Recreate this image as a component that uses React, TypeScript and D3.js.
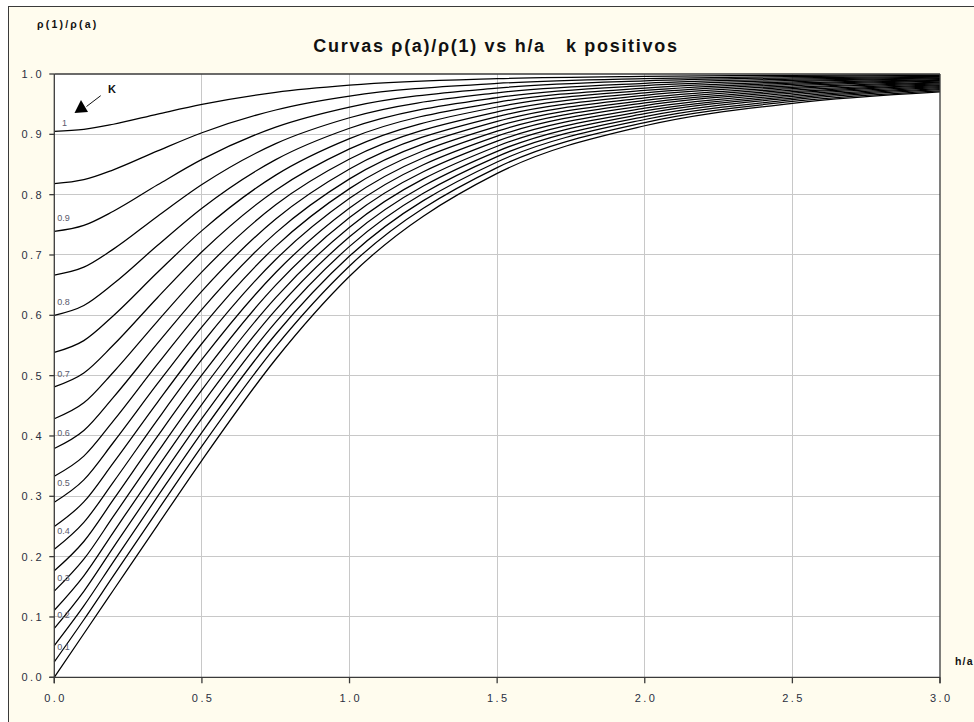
import React from 'react';
import * as d3 from 'd3';

// h/a sample positions read along the horizontal axis
const hOverA = [0, 0.1, 0.2, 0.35, 0.5, 0.75, 1.0, 1.5, 2.0, 2.5, 3.0];

// rho(1)/rho(a) for each curve (k = 0.05 ... 1.00), read at the h/a positions above
const k005 = [0.9048, 0.9081, 0.9167, 0.9335, 0.9497, 0.9696, 0.9814, 0.9922, 0.9962, 0.9979, 0.9987];
const k010 = [0.8182, 0.8248, 0.8412, 0.8725, 0.9026, 0.9403, 0.9632, 0.9844, 0.9924, 0.9958, 0.9975];
const k015 = [0.7391, 0.7490, 0.7725, 0.8163, 0.8584, 0.9120, 0.9452, 0.9766, 0.9885, 0.9937, 0.9962];
const k020 = [0.6667, 0.6798, 0.7097, 0.7643, 0.8168, 0.8846, 0.9275, 0.9688, 0.9846, 0.9915, 0.9949];
const k025 = [0.6000, 0.6163, 0.6522, 0.7161, 0.7776, 0.8581, 0.9101, 0.9610, 0.9807, 0.9893, 0.9935];
const k030 = [0.5385, 0.5581, 0.5994, 0.6713, 0.7404, 0.8324, 0.8929, 0.9531, 0.9767, 0.9871, 0.9922];
const k035 = [0.4815, 0.5044, 0.5507, 0.6296, 0.7053, 0.8074, 0.8759, 0.9453, 0.9727, 0.9849, 0.9908];
const k040 = [0.4286, 0.4549, 0.5057, 0.5905, 0.6720, 0.7832, 0.8591, 0.9373, 0.9687, 0.9826, 0.9894];
const k045 = [0.3793, 0.4091, 0.4640, 0.5539, 0.6402, 0.7597, 0.8426, 0.9294, 0.9646, 0.9803, 0.9880];
const k050 = [0.3333, 0.3666, 0.4250, 0.5195, 0.6099, 0.7367, 0.8262, 0.9214, 0.9605, 0.9779, 0.9866];
const k055 = [0.2903, 0.3273, 0.3892, 0.4870, 0.5810, 0.7143, 0.8100, 0.9133, 0.9563, 0.9756, 0.9851];
const k060 = [0.2500, 0.2907, 0.3555, 0.4563, 0.5533, 0.6925, 0.7939, 0.9052, 0.9520, 0.9731, 0.9837];
const k065 = [0.2121, 0.2568, 0.3236, 0.4272, 0.5268, 0.6710, 0.7779, 0.8970, 0.9477, 0.9707, 0.9821];
const k070 = [0.1765, 0.2251, 0.2944, 0.3996, 0.5011, 0.6500, 0.7620, 0.8887, 0.9433, 0.9682, 0.9806];
const k075 = [0.1429, 0.1957, 0.2666, 0.3732, 0.4764, 0.6294, 0.7461, 0.8803, 0.9388, 0.9656, 0.9790];
const k080 = [0.1111, 0.1682, 0.2403, 0.3479, 0.4524, 0.6090, 0.7302, 0.8718, 0.9342, 0.9629, 0.9774];
const k085 = [0.0811, 0.1425, 0.2153, 0.3235, 0.4290, 0.5887, 0.7143, 0.8631, 0.9295, 0.9602, 0.9757];
const k090 = [0.0526, 0.1184, 0.1914, 0.2998, 0.4061, 0.5686, 0.6982, 0.8542, 0.9246, 0.9574, 0.9740];
const k095 = [0.0256, 0.0954, 0.1681, 0.2764, 0.3832, 0.5482, 0.6818, 0.8449, 0.9195, 0.9545, 0.9722];
const k100 = [0.0000, 0.0722, 0.1443, 0.2524, 0.3597, 0.5272, 0.6647, 0.8352, 0.9142, 0.9514, 0.9702];

const curves = [k005, k010, k015, k020, k025, k030, k035, k040, k045, k050,
  k055, k060, k065, k070, k075, k080, k085, k090, k095, k100];

// small in-plot curve labels (text, h/a, rho ratio)
const curveLabelText = ['1', '0.9', '0.8', '0.7', '0.6', '0.5', '0.4', '0.3', '0.2', '0.1'];
const curveLabelH = [0.026, 0.01, 0.01, 0.01, 0.01, 0.01, 0.01, 0.01, 0.01, 0.01];
const curveLabelV = [0.914, 0.756, 0.617, 0.498, 0.400, 0.317, 0.237, 0.159, 0.098, 0.045];

const xTickValues = [0, 0.5, 1.0, 1.5, 2.0, 2.5, 3.0];
const yTickValues = [0, 0.1, 0.2, 0.3, 0.4, 0.5, 0.6, 0.7, 0.8, 0.9, 1.0];

const titleText = 'Curvas \u03c1(a)/\u03c1(1) vs h/a   k positivos';
const yAxisTitle = '\u03c1(1)/\u03c1(a)';
const xAxisTitle = 'h/a';

const W = 974;
const H = 722;
const PL = 54.3, PR = 940, PT = 74, PB = 677.3;
const FONT = '"Liberation Sans", Arial, Helvetica, sans-serif';
const TICK_COLOR = '#2a2f3f';

export default function App() {
  const x = d3.scaleLinear().domain([0, 3]).range([PL, PR]);
  const y = d3.scaleLinear().domain([0, 1]).range([PB, PT]);
  const fmt = d3.format('.1f');
  const line = d3.line<number>()
    .x((_, i) => x(hOverA[i]))
    .y((d) => y(d))
    .curve(d3.curveMonotoneX);

  return (
    <div style={{ position: 'absolute', left: 0, top: 0, width: W, height: H, background: '#ffffff' }}>
      <svg width={W} height={H} style={{ display: 'block' }} fontFamily={FONT}>
        <rect x={8.5} y={6.5} width={1000} height={1000} fill="#FFFCEE" stroke="#3a3a3a" strokeWidth={1} />
        <text x={496} y={52} textAnchor="middle" fontSize={18} fontWeight="bold" letterSpacing={1.7}
          fill="#111" style={{ whiteSpace: 'pre' }}>{titleText}</text>
        <text x={37} y={28} fontSize={10.5} fontWeight="bold" letterSpacing={2.2} fill="#111">{yAxisTitle}</text>
        <text x={955} y={665} fontSize={10.5} fontWeight="bold" letterSpacing={1.2} fill="#111">{xAxisTitle}</text>

        <rect x={PL} y={PT} width={PR - PL} height={PB - PT} fill="#ffffff" />
        <g stroke="#c8c8c8" strokeWidth={1} shapeRendering="crispEdges">
          {yTickValues.filter((v) => v > 0 && v < 1).map((v) => (
            <line key={'gy' + v} x1={PL} x2={PR} y1={y(v)} y2={y(v)} />
          ))}
          {xTickValues.filter((v) => v > 0 && v < 3).map((v) => (
            <line key={'gx' + v} x1={x(v)} x2={x(v)} y1={PT} y2={PB} />
          ))}
        </g>

        <g fill="none" stroke="#000" strokeWidth={1.25} strokeLinejoin="round">
          {curves.map((c, i) => (
            <path key={'c' + i} d={line(c) || ''} />
          ))}
        </g>

        <g fontSize={9} fill="#5a5a6e">
          {curveLabelText.map((t, i) => (
            <text key={'l' + i} x={x(curveLabelH[i])} y={y(curveLabelV[i])}>{t}</text>
          ))}
        </g>

        <g stroke="#3a3a3a" strokeWidth={1.3}>
          <line x1={PL} x2={PR} y1={PT} y2={PT} />
          <line x1={PR} x2={PR} y1={PT} y2={PB + 6} />
          <line x1={PL} x2={PL} y1={PT} y2={PB + 6} />
          <line x1={PL - 5} x2={PR} y1={PB} y2={PB} />
          {yTickValues.map((v) => (
            <line key={'ty' + v} x1={PL - 5} x2={PL} y1={y(v)} y2={y(v)} />
          ))}
          {xTickValues.map((v) => (
            <line key={'tx' + v} x1={x(v)} x2={x(v)} y1={PB} y2={PB + 6} />
          ))}
        </g>

        <g fontSize={11} fill={TICK_COLOR} letterSpacing={2.4}>
          {yTickValues.map((v) => (
            <text key={'yl' + v} x={44} y={y(v) + 4} textAnchor="end">{fmt(v)}</text>
          ))}
          {xTickValues.map((v) => (
            <text key={'xl' + v} x={x(v) + 1.2} y={702} textAnchor="middle">{fmt(v)}</text>
          ))}
        </g>

        <text x={108} y={93} fontSize={11} fontWeight="bold" fill="#111">K</text>
        <line x1={100.7} y1={95.7} x2={86.5} y2={106.5} stroke="#111" strokeWidth={1} />
        <polygon points="74.5,113 88,112 81,100" fill="#000" />
      </svg>
    </div>
  );
}
